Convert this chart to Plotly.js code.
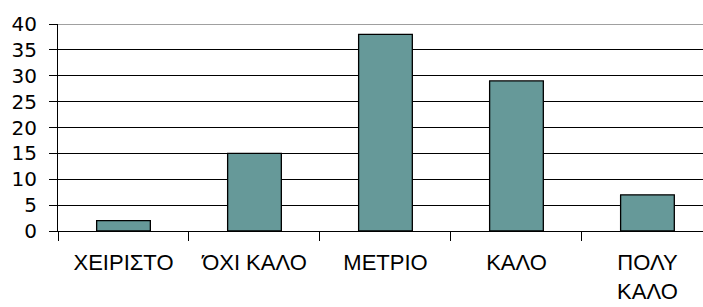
<!DOCTYPE html>
<html>
<head>
<meta charset="utf-8">
<script src="https://cdn.plot.ly/plotly-3.0.1.min.js"></script>
<style>
  html, body { margin: 0; padding: 0; background: #fff; overflow: hidden; }
  #chart { width: 703px; height: 307px; }
</style>
</head>
<body>
<div id="chart"></div>
<script>
// Data
const categories = ['ΧΕΙΡΙΣΤΟ', 'ΌΧΙ ΚΑΛΟ', 'ΜΕΤΡΙΟ', 'ΚΑΛΟ', 'ΠΟΛΥ<br>ΚΑΛΟ'];
const values = [2, 15, 38, 29, 7];
const yTickValues = [0, 5, 10, 15, 20, 25, 30, 35, 40];
const yMax = 40;

const trace = {
  type: 'bar',
  x: categories,
  y: values,
  marker: {
    color: '#669999',
    line: { color: '#000000', width: 1.3 }
  },
  hoverinfo: 'x+y'
};

const layout = {
  width: 703,
  height: 307,
  margin: { l: 58, r: 0, t: 24, b: 76, pad: 0 },
  paper_bgcolor: '#ffffff',
  plot_bgcolor: '#ffffff',
  showlegend: false,
  bargap: 0.59,
  xaxis: {
    type: 'category',
    range: [-0.5, 4.424],
    showgrid: false,
    zeroline: false,
    showline: true,
    linecolor: '#000000',
    linewidth: 1,
    ticks: 'outside',
    tickson: 'boundaries',
    ticklen: 9,
    tickcolor: '#000000',
    tickwidth: 1,
    ticklabelstandoff: 12,
    tickfont: { family: 'Liberation Sans, Arial, sans-serif', size: 22, color: '#000000' },
    fixedrange: true
  },
  yaxis: {
    range: [0, yMax],
    tickvals: yTickValues,
    ticktext: yTickValues.map(String),
    showgrid: true,
    gridcolor: '#000000',
    gridwidth: 1,
    zeroline: false,
    showline: true,
    linecolor: '#000000',
    linewidth: 1,
    ticks: 'outside',
    ticklen: 8,
    tickcolor: '#000000',
    tickwidth: 1,
    ticklabelstandoff: 8,
    tickfont: { family: 'DejaVu Sans, sans-serif', size: 20, color: '#000000' },
    fixedrange: true
  },
  shapes: [{
    type: 'line', xref: 'paper', yref: 'y',
    x0: 0, x1: 1, y0: yMax, y1: yMax,
    line: { color: '#808080', width: 1.5 },
    layer: 'above'
  }]
};

Plotly.newPlot('chart', [trace], layout, { displayModeBar: false, staticPlot: true });
</script>
</body>
</html>
